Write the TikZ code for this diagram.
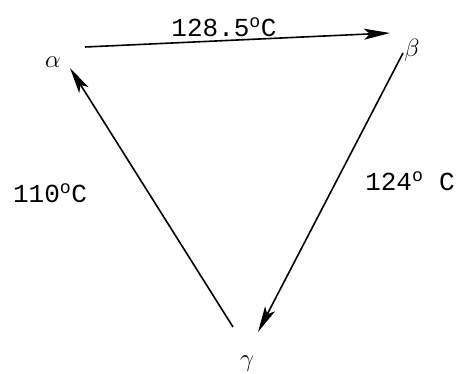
\documentclass[tikz,border=0pt]{standalone}
\usepackage{fontspec}
\setmonofont{Liberation Mono}
\usetikzlibrary{arrows.meta}
\tikzset{
  phase/.style = {
    inner sep=0pt, font=\fontsize{30}{34}\selectfont
  },
  temp/.style = {
    inner sep=1pt, font=\fontsize{26}{30}\selectfont\ttfamily
  },
  arr/.style = {
    draw=black, line width=1.6pt,
    -{Stealth[length=26pt, width=11pt, inset=6pt]}
  }
}

\begin{document}
\begin{tikzpicture}[x=1pt, y=-1pt]

    \useasboundingbox (0,0) rectangle (458,374);

    % ------------------------------------------------------------- Phases
    \node [phase] (alpha) at ( 53,  62) {$\alpha$};
    \node [phase] (beta)  at (412,  50) {$\beta$};
    \node [phase] (gamma) at (247, 364) {$\gamma$};

    % ------------------------------------------------------- Temperatures
    \node [temp] (t_ab) at (224,  27) {128.5\textsuperscript{o}C};
    \node [temp] (t_ga) at ( 50, 193) {110\textsuperscript{o}C};
    \node [temp] (t_bg) at (410, 181) {124\textsuperscript{o} C};

    % --------------------------------------------------------- Transitions
    \draw [arr] ([shift={( 32,-15)}]alpha.center) -- ([shift={(-22,-17)}]beta.center);
    \draw [arr] ([shift={( -9,  3)}]beta.center)  -- ([shift={( 11,-32)}]gamma.center);
    \draw [arr] ([shift={(-14,-37)}]gamma.center) -- ([shift={( 17,  6)}]alpha.center);

\end{tikzpicture}
\end{document}
